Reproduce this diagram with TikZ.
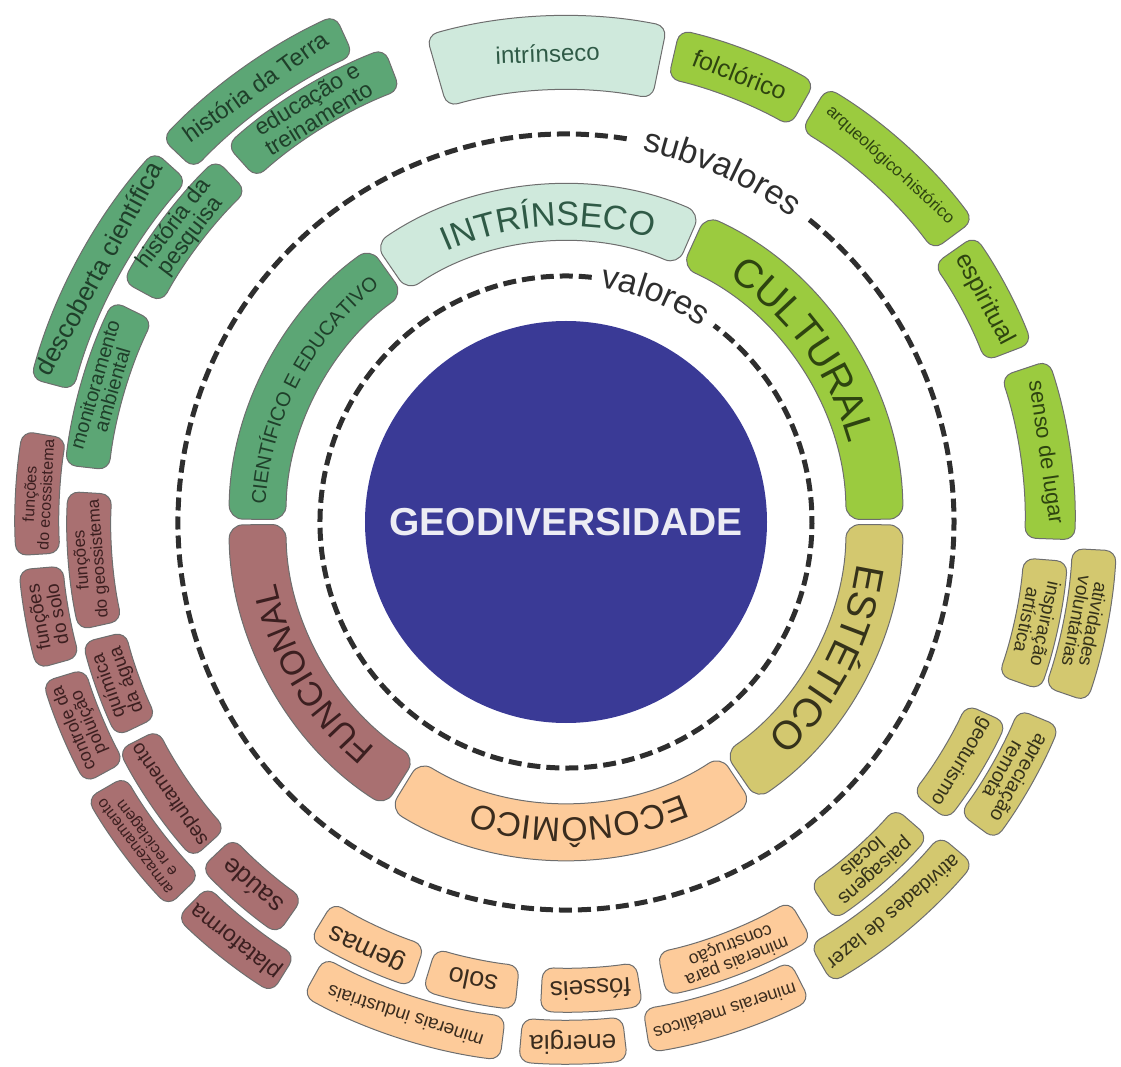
\documentclass[tikz,border=0pt]{standalone}
\usepackage{fontspec}
\setmainfont{Liberation Sans}
\usetikzlibrary{decorations.text}

\definecolor{geoblue}{HTML}{3A3A96}
\definecolor{geotext}{HTML}{ECECF4}
\definecolor{mintFill}{HTML}{CFE9DC}
\definecolor{mintText}{HTML}{2F5A46}
\definecolor{sciFill}{HTML}{5CA675}
\definecolor{sciText}{HTML}{1F3F2A}
\definecolor{cultFill}{HTML}{9BCB3F}
\definecolor{cultText}{HTML}{2E4410}
\definecolor{aestFill}{HTML}{D3C86F}
\definecolor{aestText}{HTML}{35321A}
\definecolor{econFill}{HTML}{FDCB9A}
\definecolor{econText}{HTML}{3A2C1E}
\definecolor{funcFill}{HTML}{A97071}
\definecolor{funcText}{HTML}{3C1F20}
\definecolor{edgeGray}{HTML}{6E6E6E}
\definecolor{dashGray}{HTML}{2E2E2E}

% pedaco de anel: #1 estilo, #2 angulo inicial, #3 angulo final, #4 raio interno, #5 raio externo
\newcommand{\ringpart}[5]{%
  \draw[#1] ({#2}:{#4}) arc[start angle=#2, end angle=#3, radius=#4]
    -- ({#3}:{#5}) arc[start angle=#3, end angle=#2, radius=#5] -- cycle;}

% meia espessura das caixas de subvalor
\newcommand{\boxhalf}{22}

% subvalor: #1 nome, #2 grupo, #3 a1, #4 a2, #5 raio medio, #6 corpo, #7 texto
\newcommand{\subval}[7]{%
  \ringpart{#2 box}{#3}{#4}{#5-\boxhalf}{#5+\boxhalf}
  \pgfmathsetmacro\midang{(#3+#4)/2}
  \pgfmathsetmacro\lsk{0.9*#6}
  \node[sublabel, #2 text, font=\fontsize{#6}{\lsk}\selectfont, rotate=\midang-90]
    (#1) at (\midang:#5) {#7};}

\begin{document}
\begin{tikzpicture}[x=1pt, y=1pt,
  box/.style={draw=edgeGray, line width=1pt, rounded corners=11pt},
  band/.style={draw=edgeGray, line width=1pt, rounded corners=14pt},
  mint box/.style={box, fill=mintFill}, mint text/.style={text=mintText},
  sci box/.style={box, fill=sciFill},   sci text/.style={text=sciText},
  cult box/.style={box, fill=cultFill}, cult text/.style={text=cultText},
  aest box/.style={box, fill=aestFill}, aest text/.style={text=aestText},
  econ box/.style={box, fill=econFill}, econ text/.style={text=econText},
  func box/.style={box, fill=funcFill}, func text/.style={text=funcText},
  sublabel/.style={inner sep=0pt, align=center},
  ringdash/.style={draw=dashGray, line width=5pt, dash pattern=on 13pt off 6pt},
]
\useasboundingbox (-566,-545) rectangle (555,522);

% centro
\node[circle, fill=geoblue, minimum size=402pt, inner sep=0pt, text=geotext,
  font=\fontsize{39}{39}\selectfont\bfseries] (geo) at (0,0) {GEODIVERSIDADE};

% circulos tracejados
\draw[ringdash] (84:246) arc[start angle=84, end angle=413, radius=246];
\draw[ringdash] (81:388) arc[start angle=81, end angle=412, radius=388];
\path[decorate, decoration={text along path, text align=center, text color=dashGray,
  text={|\fontsize{34}{34}\selectfont|valores}}]
  (86:237) arc[start angle=86, end angle=51, radius=237];
\path[decorate, decoration={text along path, text align=center, text color=dashGray,
  text={|\fontsize{34}{34}\selectfont|subvalores}}]
  (84:379) arc[start angle=84, end angle=48, radius=379];

% valores
\ringpart{band, fill=cultFill}{0.5}{65.5}{280}{337}
\ringpart{band, fill=mintFill}{66.5}{124.5}{280}{337}
\ringpart{band, fill=sciFill}{125.5}{179.5}{280}{337}
\ringpart{band, fill=funcFill}{180.5}{237.5}{280}{337}
\ringpart{band, fill=econFill}{238.5}{303.5}{280}{337}
\ringpart{band, fill=aestFill}{304.5}{359.5}{280}{337}

\path[decorate, decoration={text along path, text align=center, text color=mintText,
  text={|\fontsize{34}{34}\selectfont|INTRÍNSECO}}]
  (122:296) arc[start angle=122, end angle=65, radius=296];
\path[decorate, decoration={text along path, text align=center, text color=cultText,
  text={|\fontsize{40}{40}\selectfont|CULTURAL}}]
  (66:294) arc[start angle=66, end angle=6, radius=294];
\path[decorate, decoration={text along path, text align=center, text color=aestText,
  text={|\fontsize{40}{40}\selectfont|ESTÉTICO}}]
  (1:294) arc[start angle=1, end angle=-56, radius=294];
\path[decorate, decoration={text along path, text align=center, text color=econText,
  text={|\fontsize{34}{34}\selectfont|ECONÔMICO}}]
  (-55:296) arc[start angle=-55, end angle=-120, radius=296];
\path[decorate, decoration={text along path, text align=center, text color=funcText,
  text={|\fontsize{34}{34}\selectfont|FUNCIONAL}}]
  (240:296) arc[start angle=240, end angle=182, radius=296];
\path[decorate, decoration={text along path, text align=center, text color=sciText,
  text={|\fontsize{20}{20}\selectfont|CIENTÍFICO E EDUCATIVO}}]
  (179:301) arc[start angle=179, end angle=126, radius=301];

% subvalores
\ringpart{mint box}{78.5}{106}{432}{506}
\node[sublabel, mint text, font=\fontsize{24}{24}\selectfont, rotate=2.25]
  (intrinseco) at (92.25:469) {intrínseco};

\subval{histTerra}{sci}{114.5}{136.5}{535}{24}{história da Terra}
\subval{descoberta}{sci}{138}{165}{532}{26}{descoberta científica}
\subval{educacao}{sci}{111}{132}{485}{23}{educação e\\treinamento}
\subval{histPesquisa}{sci}{134}{151.5}{482}{23}{história da\\pesquisa}
\subval{monitoramento}{sci}{154}{173.5}{482}{20}{monitoramento\\ambiental}

\subval{fEcossistema}{func}{170.5}{183.5}{529}{16}{funções\\do ecossistema}
\subval{fSolo}{func}{185}{195.5}{527}{19}{funções\\do solo}
\subval{controle}{func}{197}{208.5}{525}{18}{controle da\\poluição}
\subval{armazenamento}{func}{210}{224}{531}{16}{armazenamento\\e reciclagem}
\subval{plataforma}{func}{225.5}{238}{533}{23}{plataforma}
\subval{fGeossistema}{func}{176.5}{192.5}{477}{17}{funções\\do geossistema}
\subval{quimica}{func}{194}{205.5}{476}{19}{química\\da água}
\subval{sepultamento}{func}{207}{222}{480}{20}{sepultamento}
\subval{saude}{func}{223.5}{235}{481}{26}{saúde}

\subval{gemas}{econ}{238.5}{251.5}{468}{27}{gemas}
\subval{solo}{econ}{253}{264}{468}{27}{solo}
\subval{fosseis}{econ}{267}{279}{468}{26}{fósseis}
\subval{construcao}{econ}{282}{300.5}{462}{18}{minerais para\\construção}
\subval{industriais}{econ}{241}{263}{520}{19}{minerais industriais}
\subval{energia}{econ}{265}{276.5}{520}{26}{energia}
\subval{metalicos}{econ}{279}{297}{515}{18}{minerais metálicos}

\subval{paisagens}{aest}{304}{319}{458}{20}{paisagens\\locais}
\subval{geoturismo}{aest}{322}{335.5}{462}{20}{geoturismo}
\subval{inspiracao}{aest}{340.5}{355.5}{481}{19}{inspiração\\artística}
\subval{lazer}{aest}{300}{320}{510}{20}{atividades de lazer}
\subval{apreciacao}{aest}{323.5}{337.5}{512}{20}{apreciação\\remota}
\subval{voluntarias}{aest}{341}{357}{529}{19}{atividades\\voluntárias}

% linha unica, caixas mais largas
\renewcommand{\boxhalf}{25}
\subval{folclorico}{cult}{60.5}{77}{480}{25}{folclórico}
\subval{arqueologico}{cult}{36.5}{59}{482}{17}{arqueológico-histórico}
\subval{espiritual}{cult}{21}{35}{474}{25}{espiritual}
\subval{senso}{cult}{-2}{18.5}{484}{22}{senso de lugar}
\end{tikzpicture}
\end{document}
